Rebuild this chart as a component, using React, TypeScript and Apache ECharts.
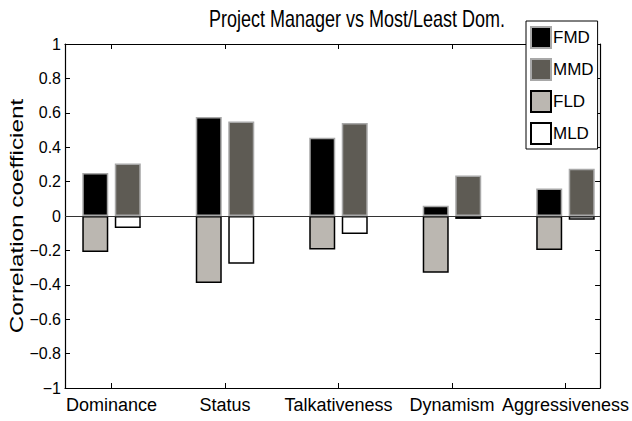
import React, { useEffect, useRef } from "react";
import * as echarts from "echarts";

const categories = ["Dominance", "Status", "Talkativeness", "Dynamism", "Aggressiveness"];
const seriesNames = ["FMD", "MMD", "FLD", "MLD"];
const fmd = [0.25, 0.575, 0.455, 0.06, 0.16];
const mmd = [0.305, 0.55, 0.54, 0.235, 0.275];
const fld = [-0.21, -0.39, -0.195, -0.33, -0.197];
const mld = [-0.07, -0.278, -0.105, -0.017, -0.022];
const xPositions = [1, 2, 3, 4, 5];
const title = "Project Manager vs Most/Least Dom.";
const yTitle = "Correlation coefficient";

const SANS = "'Liberation Sans', Arial, Helvetica, sans-serif";

function toPairs(vals: number[]) {
  return vals.map((v, i) => [xPositions[i], v]);
}

function yFmt(v: number) {
  const r = Math.round(v * 10) / 10;
  if (r === 0) return "0";
  return (r < 0 ? "\u2212" : "") + String(Math.abs(r));
}

export default function App() {
  const ref = useRef<HTMLDivElement>(null);
  useEffect(() => {
    if (!ref.current) return;
    const chart = echarts.init(ref.current, undefined, { renderer: "svg" });
    const tickCommon = { inside: true, length: 5, lineStyle: { color: "#000", width: 1 } };
    const lineCommon = { show: true, onZero: false, lineStyle: { color: "#000", width: 1.2 } };
    const barCommon = { type: "bar", barWidth: 26, barGap: "25%" };
    const styles = [
      { color: "#000000", borderColor: "#a8a8a8", borderWidth: 1.5 },
      { color: "#5e5b54", borderColor: "#a8a8a8", borderWidth: 1.5 },
      { color: "#bbb7b1", borderColor: "#000000", borderWidth: 1.5 },
      { color: "#ffffff", borderColor: "#000000", borderWidth: 1.5 },
    ];
    const dataSets = [fmd, mmd, fld, mld];
    const stacks = ["left", "right", "left", "right"];
    const option: any = {
      animation: false,
      backgroundColor: "#fff",
      grid: { left: 65, top: 44, right: 30, bottom: 33, containLabel: false },
      graphic: [
        {
          type: "text",
          x: 357,
          y: 19,
          scaleY: 1.3,
          style: { text: title, font: `18px ${SANS}`, fill: "#000", align: "center", verticalAlign: "middle" },
        },
        {
          type: "text",
          x: 17,
          y: 216,
          rotation: Math.PI / 2,
          scaleX: 1.35,
          style: { text: yTitle, font: `18px ${SANS}`, fill: "#000", align: "center", verticalAlign: "middle" },
        },
      ],
      legend: {
        orient: "vertical",
        left: 526,
        top: 21,
        padding: [5, 4, 4, 4],
        itemWidth: 20,
        itemHeight: 21,
        itemGap: 9,
        borderColor: "#000",
        borderWidth: 1,
        borderRadius: 0,
        backgroundColor: "#fff",
        icon: "rect",
        textStyle: { fontFamily: SANS, fontSize: 17, color: "#000", padding: [0, 0, 0, -3] },
        data: seriesNames,
        z: 20,
      },
      xAxis: [
        {
          type: "value",
          min: 0.59,
          max: 5.305,
          position: "bottom",
          axisLine: lineCommon,
          axisTick: { ...tickCommon, customValues: xPositions },
          axisLabel: {
            customValues: xPositions,
            formatter: (v: number) => categories[Math.round(v) - 1] ?? "",
            fontFamily: SANS,
            fontSize: 18,
            color: "#000",
            margin: 8,
            hideOverlap: false,
            showMaxLabel: true,
            showMinLabel: true,
          },
          splitLine: { show: false },
        },
        {
          type: "value",
          min: 0.59,
          max: 5.305,
          position: "top",
          axisLine: lineCommon,
          axisTick: { ...tickCommon, customValues: xPositions },
          axisLabel: { show: false },
          splitLine: { show: false },
        },
      ],
      yAxis: [
        {
          type: "value",
          min: -1,
          max: 1,
          interval: 0.2,
          position: "left",
          axisLine: lineCommon,
          axisTick: tickCommon,
          axisLabel: { formatter: yFmt, fontFamily: SANS, fontSize: 16, color: "#000", margin: 4 },
          splitLine: { show: false },
        },
        {
          type: "value",
          min: -1,
          max: 1,
          interval: 0.2,
          position: "right",
          axisLine: lineCommon,
          axisTick: tickCommon,
          axisLabel: { show: false },
          splitLine: { show: false },
        },
      ],
      series: seriesNames.map((name, i) => ({
        ...barCommon,
        name,
        stack: stacks[i],
        xAxisIndex: 0,
        yAxisIndex: 0,
        itemStyle: styles[i],
        data: toPairs(dataSets[i]),
        ...(i === 3
          ? {
              markLine: {
                silent: true,
                symbol: ["none", "none"],
                label: { show: false },
                lineStyle: { color: "#333", width: 1, type: "solid" },
                data: [{ yAxis: 0 }],
              },
            }
          : {}),
      })),
    };
    chart.setOption(option);
    return () => chart.dispose();
  }, []);
  return (
    <div
      ref={ref}
      style={{ position: "fixed", left: 0, top: 0, width: 632, height: 421, background: "#fff" }}
    />
  );
}
